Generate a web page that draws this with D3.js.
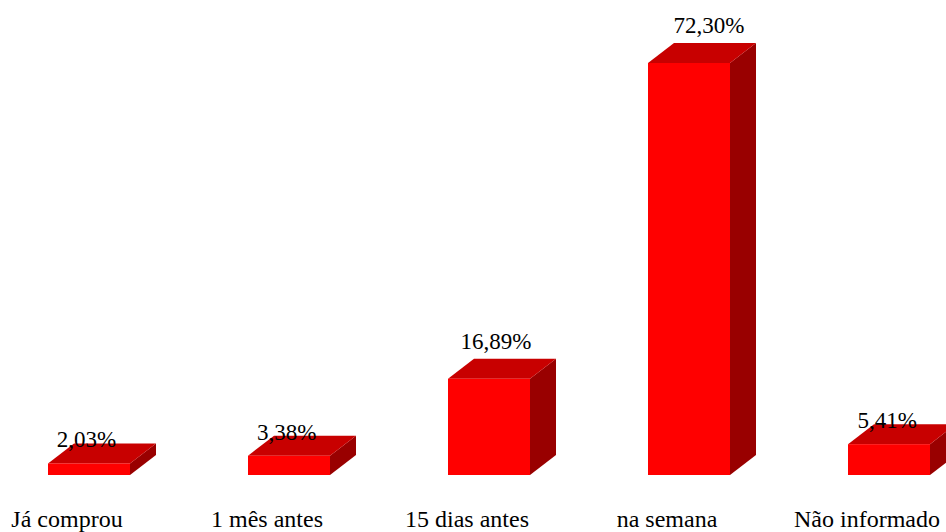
<!DOCTYPE html>
<html>
<head>
<meta charset="utf-8">
<script src="https://cdn.jsdelivr.net/npm/d3@7"></script>
<style>
  body { margin: 0; background: #fff; }
</style>
</head>
<body>
<script>
// data
var categories = ["Já comprou", "1 mês antes", "15 dias antes", "na semana", "Não informado"];
var values = [2.03, 3.38, 16.89, 72.30, 5.41];
var valueLabels = ["2,03%", "3,38%", "16,89%", "72,30%", "5,41%"];

var width = 946, height = 532;
var depthX = 26, depthY = 20;
var serif = "'Liberation Serif', 'Times New Roman', 'DejaVu Serif', serif";

var svg = d3.select("body").append("svg")
    .attr("width", width)
    .attr("height", height);

var x = d3.scaleBand()
    .domain(categories)
    .range([48, 930])
    .paddingInner(0.59)
    .paddingOuter(0);

var y = d3.scaleLinear()
    .domain([0, 72.3])
    .range([475, 63]);

var bw = x.bandwidth();
var rows = categories.map(function(c, i){ return {cat: c, val: values[i], lab: valueLabels[i]}; });

var bars = svg.selectAll("g.bar")
    .data(rows)
    .enter()
    .append("g")
    .attr("class", "bar");

// right side
bars.append("path")
    .attr("fill", "#990000")
    .attr("d", function(d){
        var x1 = x(d.cat) + bw, t = y(d.val), b = y(0);
        return "M" + x1 + "," + t + "L" + (x1 + depthX) + "," + (t - depthY) +
            "L" + (x1 + depthX) + "," + (b - depthY) + "L" + x1 + "," + b + "Z";
    });

// top
bars.append("path")
    .attr("fill", "#c80000")
    .attr("d", function(d){
        var x0 = x(d.cat), t = y(d.val);
        return "M" + x0 + "," + t + "L" + (x0 + depthX) + "," + (t - depthY) +
            "L" + (x0 + bw + depthX) + "," + (t - depthY) + "L" + (x0 + bw) + "," + t + "Z";
    });

// front
bars.append("rect")
    .attr("fill", "#ff0000")
    .attr("x", function(d){ return x(d.cat); })
    .attr("y", function(d){ return y(d.val); })
    .attr("width", bw)
    .attr("height", function(d){ return y(0) - y(d.val); });

// value labels (small bars: label sits on the top face)
bars.append("text")
    .attr("text-anchor", "middle")
    .attr("font-family", serif)
    .attr("font-size", 23)
    .attr("x", function(d){
        var h = y(0) - y(d.val);
        return x(d.cat) + bw / 2 + (h > 50 ? 3 : -3) + 17 * h / 412;
    })
    .attr("y", function(d){
        var h = y(0) - y(d.val);
        return y(d.val) - (h > 50 ? 30 : 16);
    })
    .text(function(d){ return d.lab; });

// category labels
svg.selectAll("text.cat")
    .data(categories)
    .enter()
    .append("text")
    .attr("class", "cat")
    .attr("text-anchor", "middle")
    .attr("font-family", serif)
    .attr("font-size", 24)
    .attr("x", function(d){ return x(d) + 19; })
    .attr("y", 527)
    .text(function(d){ return d; });
</script>
</body>
</html>
